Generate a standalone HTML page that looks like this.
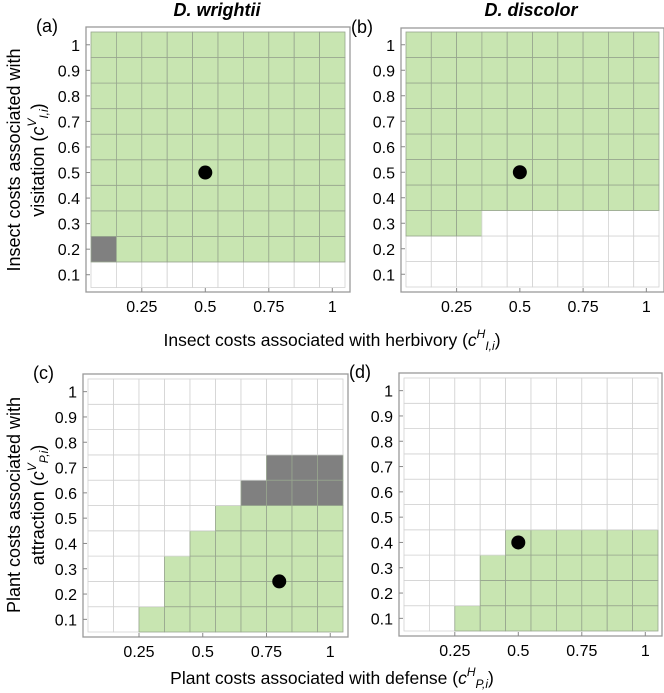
<!DOCTYPE html>
<html><head><meta charset="utf-8">
<style>
body{margin:0;background:#fff;}
svg{display:block;font-family:"Liberation Sans",Arial,sans-serif;}
</style></head>
<body>
<svg id="fig" width="664" height="693" viewBox="0 0 664 693">
<text x="217" y="16" text-anchor="middle" font-size="18" font-weight="bold" font-style="italic">D. wrightii</text>
<text x="531" y="16" text-anchor="middle" font-size="18" font-weight="bold" font-style="italic">D. discolor</text>
<text x="332" y="346" text-anchor="middle" font-size="17.5">Insect costs associated with herbivory (<tspan font-style="italic">c</tspan><tspan font-size="12" dy="-8" font-style="italic">H</tspan><tspan font-size="12" dy="12" font-style="italic">I,i</tspan><tspan dy="-4">)</tspan></text>
<text x="332" y="684" text-anchor="middle" font-size="17.5">Plant costs associated with defense (<tspan font-style="italic">c</tspan><tspan font-size="12" dy="-8" font-style="italic">H</tspan><tspan font-size="12" dy="12" font-style="italic">P,i</tspan><tspan dy="-4">)</tspan></text>
<g transform="translate(0,160) rotate(-90)">
<text x="0" y="20" text-anchor="middle" font-size="18">Insect costs associated with</text>
<text x="0" y="44" text-anchor="middle" font-size="18">visitation (<tspan font-style="italic">c</tspan><tspan font-size="12" dy="-8" font-style="italic">V</tspan><tspan font-size="12" dy="12" font-style="italic">I,i</tspan><tspan dy="-4">)</tspan></text>
</g>
<g transform="translate(0,505) rotate(-90)">
<text x="0" y="20" text-anchor="middle" font-size="18">Plant costs associated with</text>
<text x="0" y="44" text-anchor="middle" font-size="18">attraction (<tspan font-style="italic">c</tspan><tspan font-size="12" dy="-8" font-style="italic">V</tspan><tspan font-size="12" dy="12" font-style="italic">P,i</tspan><tspan dy="-4">)</tspan></text>
</g>
</svg>
<script>
// grid values: 0.1..1.0 ; codes: 0 white, 1 green, 2 gray. Rows from y=0.1 upward.
const xTicks = [0.25, 0.5, 0.75, 1];
const yTicks = [0.1,0.2,0.3,0.4,0.5,0.6,0.7,0.8,0.9,1];
const gridA = [
 "0000000000","2111111111","1111111111","1111111111","1111111111",
 "1111111111","1111111111","1111111111","1111111111","1111111111"];
const gridB = [
 "0000000000","0000000000","1110000000","1111111111","1111111111",
 "1111111111","1111111111","1111111111","1111111111","1111111111"];
const gridC = [
 "0011111111","0001111111","0001111111","0000111111","0000011111",
 "0000002222","0000000222","0000000000","0000000000","0000000000"];
const gridD = [
 "0011111111","0001111111","0001111111","0000111111","0000000000",
 "0000000000","0000000000","0000000000","0000000000","0000000000"];
const dotA = [0.5, 0.5], dotB = [0.5, 0.5], dotC = [0.8, 0.25], dotD = [0.5, 0.4];

const NS = "http://www.w3.org/2000/svg";
const svg = document.getElementById('fig');
function mk(tag, attrs, parent){
  const e = document.createElementNS(NS, tag);
  for (const k in attrs) e.setAttribute(k, attrs[k]);
  (parent||svg).appendChild(e); return e;
}
function panel(name, label, grid, dot, L, T, R, B, fr){
  const g = mk('g', {});
  
  
  const sx = v => L + (v - 0.05) / 1.0 * (R - L);
  const sy = v => B - (v - 0.05) / 1.0 * (B - T);
  const fill = ['#ffffff', '#c8e5b1', '#808080'];
  const frame = mk('rect', {x: fr[0], y: fr[1], width: fr[2]-fr[0], height: fr[3]-fr[1], fill: '#fff', stroke: '#9a9a9a', 'stroke-width': 1.3}, g);
  
  
  for (let r = 0; r < grid.length; r++) {
    for (let c = 0; c < grid[r].length; c++) {
      const code = +grid[r][c];
      const xv = (c + 1) / 10, yv = (r + 1) / 10;
      const cell = mk('rect', {x: sx(xv - 0.05), y: sy(yv + 0.05), width: sx(xv + 0.05) - sx(xv - 0.05), height: sy(yv - 0.05) - sy(yv + 0.05),
        fill: fill[code], stroke: code ? '#97a58e' : '#d2d2d2', 'stroke-width': 0.8}, g);
      
      
    }
  }
  xTicks.forEach(t => {
    mk('line', {x1: sx(t), x2: sx(t), y1: fr[3], y2: fr[3]-4, stroke: '#888'}, g);
    const tx = mk('text', {x: sx(t), y: fr[3] + 20, 'text-anchor': 'middle', 'font-size': 16}, g);
    tx.textContent = String(t);
    
    
  });
  yTicks.forEach(t => {
    mk('line', {x1: fr[0], x2: fr[0]+4, y1: sy(t), y2: sy(t), stroke: '#888'}, g);
    const ty = mk('text', {x: fr[0] - 6, y: sy(t) + 6, 'text-anchor': 'end', 'font-size': 16}, g);
    ty.textContent = String(t);
    
    
  });
  const d = mk('circle', {cx: sx(dot[0]), cy: sy(dot[1]), r: 7, fill: '#000'}, g);
  
  
  const lb = mk('text', {x: fr[0] - 50, y: fr[1] + 5, 'font-size': 18}, g);
  lb.textContent = label;
  
  
}
panel('a', '(a)', gridA, dotA, 91, 32, 345, 287.5, [86, 27, 350, 292]);
panel('b', '(b)', gridB, dotB, 406, 32, 659, 287, [401, 28, 664, 292]);
panel('c', '(c)', gridC, dotC, 88, 379, 343, 632, [83, 374, 348, 637]);
panel('d', '(d)', gridD, dotD, 404, 378, 658, 631, [399, 373, 662, 636]);
</script>
</body></html>
